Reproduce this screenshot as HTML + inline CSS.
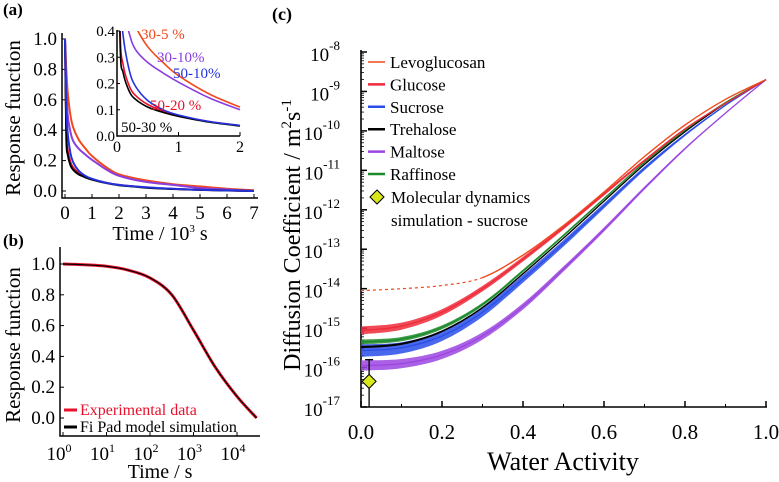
<!DOCTYPE html>
<html><head><meta charset="utf-8"><style>
html,body{margin:0;padding:0;background:#fff;width:779px;height:482px;overflow:hidden;font-family:"Liberation Serif","DejaVu Serif",serif}
svg{display:block}
svg text{font-family:"Liberation Serif","DejaVu Serif",serif}
</style></head><body>
<svg id="fig" width="779" height="482" viewBox="0 0 779 482" font-family="Liberation Serif, DejaVu Serif, serif"></svg>
<script>
// ---------- data ----------
const aTimes=[0,0.05,0.1,0.2,0.3,0.5,0.75,1,1.5,2,3,4,5,6,7];
const a30_5=[1.0,0.8,0.65,0.5,0.42,0.34,0.28,0.23,0.16,0.11,0.07,0.045,0.03,0.015,0.005];
const a30_10=[1.0,0.7,0.5,0.39,0.33,0.28,0.24,0.205,0.145,0.1,0.06,0.04,0.02,0.01,0.0];
const a50_10=[1.0,0.55,0.38,0.25,0.19,0.135,0.1,0.08,0.055,0.04,0.025,0.015,0.008,0.004,0.0];
const a50_20=[1.0,0.4,0.27,0.19,0.155,0.12,0.095,0.078,0.055,0.04,0.024,0.014,0.008,0.004,0.0];
const a50_30=[1.0,0.35,0.24,0.17,0.14,0.11,0.09,0.075,0.053,0.038,0.022,0.013,0.007,0.003,0.0];
const aXTicks=[0,1,2,3,4,5,6,7];
const aYTicks=[0,0.2,0.4,0.6,0.8,1.0];
const insetXTicks=[0,1,2];
const insetYTicks=[0,0.1,0.2,0.3,0.4];
const bLogT=[0,0.5,1,1.5,2,2.5,3,3.5,4,4.45];
const bVals=[1.0,0.995,0.985,0.96,0.91,0.8,0.57,0.33,0.14,0.0];
const bXTicks=[0,1,2,3,4];
const bYTicks=[0,0.2,0.4,0.6,0.8,1.0];
const cAw=[0,0.1,0.2,0.3,0.4,0.5,0.6,0.7,0.8,0.9,1.0];
const cLevo=[-14.05,-14.0,-13.92,-13.72,-13.15,-12.4,-11.55,-10.65,-9.85,-9.2,-8.7];
const cGlucose=[-15.06,-14.95,-14.6,-14.0,-13.25,-12.45,-11.6,-10.75,-9.95,-9.3,-8.7];
const cSucrose=[-15.57,-15.5,-15.2,-14.6,-13.75,-12.85,-11.9,-10.95,-10.1,-9.35,-8.7];
const cTrehalose=[-15.48,-15.4,-15.08,-14.48,-13.62,-12.72,-11.78,-10.85,-10.02,-9.3,-8.7];
const cRaffinose=[-15.35,-15.28,-14.98,-14.4,-13.55,-12.65,-11.72,-10.8,-9.98,-9.28,-8.7];
const cMaltose=[-15.95,-15.9,-15.68,-15.2,-14.45,-13.5,-12.5,-11.45,-10.45,-9.55,-8.7];
const cXTicks=[0,0.2,0.4,0.6,0.8,1.0];
const cYTicks=[-8,-9,-10,-11,-12,-13,-14,-15,-16,-17];
const mdAw=[0.02], mdLog=[-16.35], mdErrHi=[-15.8], mdErrLo=[-17.0];

const NS="http://www.w3.org/2000/svg";
const svg=document.getElementById('fig');
const FF='Liberation Serif, DejaVu Serif, serif';
function el(tag,attrs,parent,txt){const e=document.createElementNS(NS,tag);if(tag==='text')e.setAttribute('font-family',FF);for(const k in attrs)e.setAttribute(k,attrs[k]);if(txt!==undefined)e.textContent=txt;(parent||svg).appendChild(e);return e;}
function group(name){const g=el('g',{});


return g;}
function lin(d0,d1,r0,r1){return v=>r0+(v-d0)/(d1-d0)*(r1-r0);}
function smoothD(xs,ys,fx,fy){const p=xs.map((x,i)=>[fx(x),fy(ys[i])]);let d='M'+p[0][0].toFixed(1)+','+p[0][1].toFixed(1);
for(let i=0;i<p.length-1;i++){const p0=p[i-1]||p[i],p1=p[i],p2=p[i+1],p3=p[i+2]||p2;
const c1=[p1[0]+(p2[0]-p0[0])/6,p1[1]+(p2[1]-p0[1])/6],c2=[p2[0]-(p3[0]-p1[0])/6,p2[1]-(p3[1]-p1[1])/6];
d+='C'+c1[0].toFixed(1)+','+c1[1].toFixed(1)+' '+c2[0].toFixed(1)+','+c2[1].toFixed(1)+' '+p2[0].toFixed(1)+','+p2[1].toFixed(1);}return d;}

// ---------- panel a ----------
const ga=group('panel-a');
el('text',{x:3,y:15,'font-size':17,'font-weight':'bold'},ga,'(a)');
const ax=lin(0,7,65,254), ay=lin(0,1,191,39);
el('path',{d:'M62,33 L62,198 L258,198',fill:'none',stroke:'#000','stroke-width':1.5},ga);
aYTicks.forEach(v=>{const y=ay(v);el('line',{x1:62,x2:66,y1:y,y2:y,stroke:'#000'},ga);
const t=el('text',{x:57,y:y+6,'font-size':19,'text-anchor':'end'},ga,v.toFixed(1));});
aXTicks.forEach(v=>{const x=ax(v);el('line',{x1:x,x2:x,y1:198,y2:194,stroke:'#000'},ga);
const t=el('text',{x:x,y:219,'font-size':19,'text-anchor':'middle'},ga,v);});
const aXT=el('text',{x:160,y:240,'font-size':20,'text-anchor':'middle'},ga);aXT.innerHTML='Time / 10<tspan dy="-8" font-size="11">3</tspan><tspan dy="8"> s</tspan>';

const aYT=el('text',{x:0,y:0,'font-size':21,'text-anchor':'middle',transform:'translate(20,118) rotate(-90)'},ga,'Response function');

const aSeries=[[a30_5,'#f04a1c','series-30-5'],[a30_10,'#8a3ee0','series-30-10'],[a50_20,'#e8102a','series-50-20'],[a50_30,'#000','series-50-30'],[a50_10,'#2233dd','series-50-10']];
aSeries.forEach(s=>{const p=el('path',{d:smoothD(aTimes,s[0],ax,ay),fill:'none',stroke:s[1],'stroke-width':2},ga);
});
// inset
const ix=lin(0,2,117,240), iy=lin(0,0.4,136,31);
el('rect',{x:112,y:26,width:135,height:135,fill:'#fff'},ga);
const clipI=el('clipPath',{id:'clipI'},ga);el('rect',{x:117,y:31,width:125,height:106},clipI);
el('path',{d:'M117,30 L117,136 L240,136',fill:'none',stroke:'#000','stroke-width':1.5},ga);
insetYTicks.forEach(v=>{const y=iy(v);el('line',{x1:117,x2:120,y1:y,y2:y,stroke:'#000'},ga);
const t=el('text',{x:115,y:y+5,'font-size':15,'text-anchor':'end'},ga,v.toFixed(1));});
insetXTicks.forEach(v=>{const x=ix(v);el('line',{x1:x,x2:x,y1:136,y2:132,stroke:'#000'},ga);
const t=el('text',{x:x,y:152,'font-size':16,'text-anchor':'middle'},ga,v);});
const gi=el('g',{'clip-path':'url(#clipI)'},ga);
aSeries.forEach(s=>{const n=aTimes.filter(t=>t<=2).length;const p=el('path',{d:smoothD(aTimes.slice(0,n),s[0].slice(0,n),ix,iy),fill:'none',stroke:s[1],'stroke-width':1.6},gi);
});
[['30-5 %','#f04a1c',141,39],['30-10%','#8a3ee0',157,62],['50-10%','#2233dd',173,78],['50-20 %','#e8102a',150,110],['50-30 %','#000',121,132]].forEach(l=>{
const t=el('text',{x:l[2],y:l[3],'font-size':15,fill:l[1]},ga,l[0]);});

// ---------- panel b ----------
const gb=group('panel-b');
el('text',{x:3,y:246,'font-size':17,'font-weight':'bold'},gb,'(b)');
const bx=lin(0,4,63,237), by=lin(0,1,418,264);
el('path',{d:'M60,247 L60,436 L260,436',fill:'none',stroke:'#000','stroke-width':1.5},gb);
bYTicks.forEach(v=>{const y=by(v);el('line',{x1:60,x2:64,y1:y,y2:y,stroke:'#000'},gb);
const t=el('text',{x:55,y:y+6,'font-size':19,'text-anchor':'end'},gb,v.toFixed(1));});
bXTicks.forEach(v=>{const x=bx(v);el('line',{x1:x,x2:x,y1:436,y2:432,stroke:'#000'},gb);
const t=el('text',{x:x-4,y:460,'font-size':19,'text-anchor':'middle'},gb);t.innerHTML='10<tspan dy="-8" font-size="12">'+v+'</tspan>';
});
const bXT=el('text',{x:160,y:478,'font-size':20,'text-anchor':'middle'},gb,'Time / s');
const bYT=el('text',{x:0,y:0,'font-size':21,'text-anchor':'middle',transform:'translate(20,345) rotate(-90)'},gb,'Response function');

const bExp=el('path',{d:smoothD(bLogT,bVals,bx,by),fill:'none',stroke:'#e8102a','stroke-width':3},gb);

const bMod=el('path',{d:smoothD(bLogT,bVals,bx,by),fill:'none',stroke:'#000','stroke-width':1.2},gb);

el('line',{x1:64,x2:77,y1:410,y2:410,stroke:'#e8102a','stroke-width':3},gb);
const l1=el('text',{x:80,y:415,'font-size':16,fill:'#e8102a'},gb,'Experimental data');
el('line',{x1:64,x2:77,y1:427,y2:427,stroke:'#000','stroke-width':3},gb);
const l2=el('text',{x:80,y:432,'font-size':16},gb,'Fi  Pad model simulation');

// ---------- panel c ----------
const gc=group('panel-c');
el('text',{x:272,y:20,'font-size':18,'font-weight':'bold'},gc,'(c)');
const cx=lin(0,1,361,766), cy=lin(-8,-17,52,407);
el('path',{d:'M361,50 L361,407 L767,407',fill:'none',stroke:'#000','stroke-width':1.6},gc);
cYTicks.forEach(v=>{const y=cy(v);el('line',{x1:361,x2:367,y1:y,y2:y,stroke:'#000','stroke-width':1.5},gc);
if(v>-17){for(let k=2;k<10;k++){const yy=cy(v-1+Math.log10(k));el('line',{x1:361,x2:364,y1:yy,y2:yy,stroke:'#000','stroke-width':0.8},gc);}}
const t=el('text',{x:340,y:y+9,'font-size':19,'text-anchor':'end'},gc);t.innerHTML='10<tspan dy="-11" font-size="13">'+v+'</tspan>';
});
cXTicks.forEach(v=>{const x=cx(v);el('line',{x1:x,x2:x,y1:407,y2:401,stroke:'#000','stroke-width':1.5},gc);
const m=cx(v+0.1);if(v<1)el('line',{x1:m,x2:m,y1:407,y2:404,stroke:'#000'},gc);
const t=el('text',{x:x,y:439,'font-size':21,'text-anchor':'middle'},gc,v.toFixed(1));});
const cXT=el('text',{x:563,y:470,'font-size':26,'text-anchor':'middle'},gc,'Water Activity');
const cYT=el('text',{x:0,y:0,'font-size':24,'text-anchor':'middle',transform:'translate(300,235) rotate(-90)'},gc);
cYT.innerHTML='Diffusion Coefficient / m<tspan dy="-9" font-size="15">2</tspan><tspan dy="9">s</tspan><tspan dy="-9" font-size="15">-1</tspan>';

const cSeries=[[cMaltose,'#9b45e0',0.13,'maltose'],[cSucrose,'#2a4ee8',0.16,'sucrose'],[cTrehalose,'#000',0.03,'trehalose'],[cRaffinose,'#1c8a2a',0.06,'raffinose'],[cGlucose,'#ee2a3a',0.1,'glucose']];
cSeries.forEach(s=>{const up=s[0].map((v,i)=>v+s[2]*(1-cAw[i])),dn=s[0].map((v,i)=>v-s[2]*(1-cAw[i]));
const b=el('path',{d:smoothD(cAw,up,cx,cy)+'L'+smoothD(cAw.slice().reverse(),dn.slice().reverse(),cx,cy).slice(1)+'Z',fill:s[1],opacity:0.85},gc);

const l=el('path',{d:smoothD(cAw,s[0],cx,cy),fill:'none',stroke:s[1],'stroke-width':1.3},gc);
});
const levoD=smoothD(cAw,cLevo,cx,cy);
const clipD=el('clipPath',{id:'clipD'},gc);el('rect',{x:355,y:40,width:cx(0.3)-355,height:380},clipD);
const lvd=el('path',{d:levoD,fill:'none',stroke:'#f04a1c','stroke-width':1.2,'stroke-dasharray':'3,3','clip-path':'url(#clipD)'},gc);

const clipL=el('clipPath',{id:'clipL'},gc);el('rect',{x:cx(0.3),y:40,width:420,height:380},clipL);
const lv=el('path',{d:levoD,fill:'none',stroke:'#f04a1c','stroke-width':1.4,'clip-path':'url(#clipL)'},gc);

// MD point
mdAw.forEach((a,i)=>{const x=cx(a);
const e=el('path',{d:`M${x},${cy(mdErrHi[i])}L${x},${cy(mdErrLo[i])}M${x-4},${cy(mdErrHi[i])}L${x+4},${cy(mdErrHi[i])}`,stroke:'#000','stroke-width':1.3,fill:'none'},gc);

const y=cy(mdLog[i]);const d=el('path',{d:`M${x},${y-7}L${x+7},${y}L${x},${y+7}L${x-7},${y}Z`,fill:'#d8e81a',stroke:'#000','stroke-width':1},gc);
});
// legend
const leg=[['Levoglucosan','#f04a1c',1.5],['Glucose','#ee2a3a',2.5],['Sucrose','#2a4ee8',2.5],['Trehalose','#000',2.5],['Maltose','#9b45e0',2.5],['Raffinose','#1c8a2a',2.5]];
leg.forEach((l,i)=>{const y=62+i*22.4;el('line',{x1:368,x2:385,y1:y,y2:y,stroke:l[1],'stroke-width':l[2]},gc);
const t=el('text',{x:390,y:y+6,'font-size':17},gc,l[0]);});
el('path',{d:'M377,190L384,197L377,204L370,197Z',fill:'#d8e81a',stroke:'#000'},gc);
const t1=el('text',{x:391,y:203,'font-size':17},gc,'Molecular dynamics');
const t2=el('text',{x:391,y:226,'font-size':17},gc,'simulation - sucrose');
</script>
</body></html>
